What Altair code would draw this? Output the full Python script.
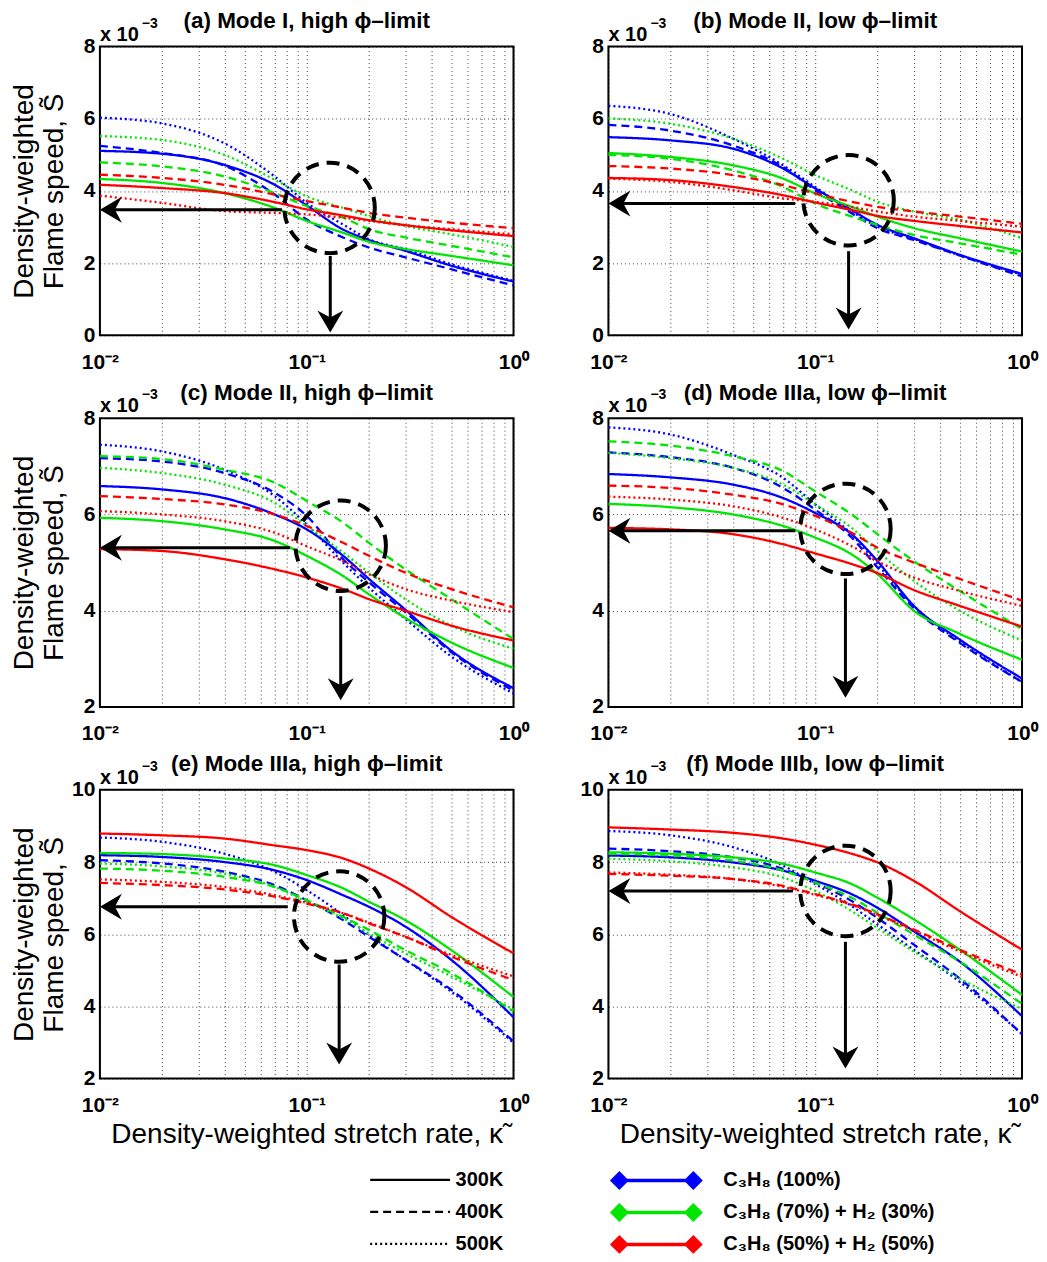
import altair as alt
import pandas as pd

# ---------------- data (values in units of 1e-3) ----------------
KAPPA = [0.01, 0.02, 0.04, 0.07, 0.1, 0.15, 0.2, 0.3, 0.5, 1.0]
FUELS = ["C₃H₈ (100%)", "C₃H₈ (70%) + H₂ (30%)", "C₃H₈ (50%) + H₂ (50%)"]
TEMPS = ["300K", "400K", "500K"]
COLORS = ["#0000ff", "#00e600", "#ff0000"]

# (a) Mode I, high phi-limit
A_B300 = [5.11, 5.03, 4.72, 4.17, 3.60, 2.93, 2.64, 2.34, 1.93, 1.49]
A_B400 = [5.25, 5.05, 4.70, 3.90, 3.21, 2.71, 2.43, 2.16, 1.83, 1.38]
A_B500 = [6.03, 5.87, 5.32, 4.40, 3.67, 3.07, 2.66, 2.39, 1.97, 1.51]
A_G300 = [4.33, 4.22, 3.94, 3.53, 3.17, 2.84, 2.59, 2.39, 2.20, 1.94]
A_G400 = [4.79, 4.68, 4.40, 3.94, 3.58, 3.26, 2.94, 2.71, 2.48, 2.16]
A_G500 = [5.52, 5.41, 5.00, 4.31, 3.85, 3.53, 3.30, 3.03, 2.80, 2.45]
A_R300 = [4.17, 4.08, 3.94, 3.69, 3.49, 3.32, 3.19, 3.05, 2.91, 2.75]
A_R400 = [4.45, 4.36, 4.17, 3.90, 3.72, 3.53, 3.39, 3.26, 3.12, 2.97]
A_R500 = [3.87, 3.67, 3.44, 3.39, 3.35, 3.26, 3.17, 3.05, 2.94, 2.80]

# (b) Mode II, low phi-limit
B_B300 = [5.49, 5.40, 5.17, 4.62, 4.07, 3.47, 3.06, 2.69, 2.23, 1.70]
B_B400 = [5.83, 5.67, 5.26, 4.66, 4.02, 3.38, 2.97, 2.64, 2.21, 1.63]
B_B500 = [6.36, 6.13, 5.45, 4.71, 4.11, 3.43, 3.01, 2.67, 2.21, 1.68]
B_G300 = [5.05, 4.94, 4.71, 4.34, 3.93, 3.56, 3.29, 2.97, 2.69, 2.32]
B_G400 = [5.00, 4.89, 4.57, 4.11, 3.65, 3.29, 3.06, 2.78, 2.55, 2.23]
B_G500 = [6.01, 5.86, 5.45, 4.89, 4.44, 4.02, 3.70, 3.43, 3.20, 2.69]
B_R300 = [4.36, 4.30, 4.11, 3.88, 3.68, 3.47, 3.31, 3.17, 3.03, 2.85]
B_R400 = [4.69, 4.62, 4.44, 4.16, 3.93, 3.70, 3.56, 3.43, 3.29, 3.09]
B_R500 = [4.34, 4.25, 4.02, 3.79, 3.70, 3.56, 3.43, 3.29, 3.17, 3.01]

# (c) Mode II, high phi-limit
C_B300 = [6.59, 6.52, 6.34, 6.00, 5.69, 5.14, 4.66, 4.02, 3.17, 2.39]
C_B400 = [7.17, 7.10, 6.86, 6.45, 5.97, 5.07, 4.59, 3.97, 3.14, 2.34]
C_B500 = [7.45, 7.31, 6.93, 6.38, 5.79, 5.00, 4.48, 3.83, 3.05, 2.28]
C_G300 = [5.93, 5.86, 5.69, 5.45, 5.14, 4.72, 4.34, 3.85, 3.34, 2.81]
C_G400 = [7.21, 7.15, 6.93, 6.66, 6.28, 5.83, 5.41, 4.86, 4.24, 3.41]
C_G500 = [6.97, 6.86, 6.62, 6.24, 5.76, 5.21, 4.79, 4.24, 3.69, 3.21]
C_R300 = [5.28, 5.24, 5.07, 4.86, 4.69, 4.45, 4.24, 4.00, 3.69, 3.38]
C_R400 = [6.38, 6.32, 6.21, 6.00, 5.76, 5.41, 5.14, 4.79, 4.45, 4.07]
C_R500 = [6.07, 6.00, 5.86, 5.62, 5.34, 5.03, 4.76, 4.45, 4.21, 3.97]

# (d) Mode IIIa, low phi-limit
D_B300 = [6.84, 6.77, 6.62, 6.34, 6.03, 5.59, 5.03, 4.10, 3.40, 2.59]
D_B400 = [7.29, 7.19, 6.97, 6.55, 6.10, 5.52, 4.90, 4.05, 3.33, 2.52]
D_B500 = [7.81, 7.66, 7.24, 6.76, 6.21, 5.59, 4.97, 4.10, 3.36, 2.52]
D_G300 = [6.22, 6.15, 6.00, 5.76, 5.52, 5.17, 4.76, 4.00, 3.52, 2.98]
D_G400 = [7.52, 7.43, 7.21, 6.90, 6.48, 6.00, 5.59, 5.03, 4.41, 3.62]
D_G500 = [7.28, 7.17, 6.97, 6.62, 6.21, 5.72, 5.24, 4.62, 4.00, 3.38]
D_R300 = [5.72, 5.69, 5.59, 5.38, 5.19, 4.97, 4.78, 4.43, 4.10, 3.67]
D_R400 = [6.60, 6.55, 6.41, 6.21, 5.97, 5.62, 5.31, 5.00, 4.66, 4.21]
D_R500 = [6.37, 6.31, 6.17, 5.93, 5.69, 5.34, 5.03, 4.69, 4.41, 4.10]

# (e) Mode IIIa, high phi-limit
E_B300 = [8.19, 8.14, 8.00, 7.77, 7.50, 7.08, 6.76, 6.21, 5.29, 3.70]
E_B400 = [8.05, 7.96, 7.73, 7.36, 6.94, 6.39, 5.93, 5.29, 4.46, 3.03]
E_B500 = [8.68, 8.56, 8.23, 7.73, 7.22, 6.53, 5.98, 5.29, 4.41, 2.99]
E_G300 = [8.25, 8.22, 8.10, 7.91, 7.64, 7.27, 6.90, 6.39, 5.56, 4.26]
E_G400 = [7.82, 7.76, 7.59, 7.31, 6.94, 6.48, 6.12, 5.56, 4.92, 3.86]
E_G500 = [7.96, 7.88, 7.68, 7.31, 6.90, 6.44, 6.02, 5.47, 4.83, 3.91]
E_R300 = [8.79, 8.74, 8.65, 8.46, 8.33, 8.10, 7.82, 7.31, 6.48, 5.47]
E_R400 = [7.42, 7.36, 7.24, 7.04, 6.85, 6.58, 6.30, 5.93, 5.38, 4.73]
E_R500 = [7.52, 7.45, 7.31, 7.08, 6.87, 6.58, 6.32, 5.93, 5.43, 4.83]

# (f) Mode IIIb, low phi-limit
F_B300 = [8.18, 8.13, 7.99, 7.76, 7.48, 7.11, 6.73, 6.08, 5.24, 3.73]
F_B400 = [8.37, 8.30, 8.13, 7.81, 7.43, 6.92, 6.45, 5.71, 4.77, 3.23]
F_B500 = [8.86, 8.74, 8.41, 7.90, 7.39, 6.78, 6.27, 5.57, 4.68, 3.23]
F_G300 = [8.27, 8.23, 8.13, 7.95, 7.71, 7.39, 7.01, 6.41, 5.57, 4.32]
F_G400 = [8.23, 8.18, 8.04, 7.76, 7.43, 7.01, 6.59, 5.99, 5.24, 4.07]
F_G500 = [8.09, 8.02, 7.85, 7.57, 7.20, 6.64, 6.17, 5.52, 4.77, 3.93]
F_R300 = [8.96, 8.90, 8.81, 8.65, 8.48, 8.23, 7.99, 7.48, 6.64, 5.57]
F_R400 = [7.67, 7.62, 7.53, 7.34, 7.11, 6.83, 6.55, 6.13, 5.57, 4.89]
F_R500 = [7.71, 7.65, 7.53, 7.31, 7.09, 6.81, 6.53, 6.10, 5.52, 4.82]

PANEL_SERIES = {
    "a": [A_B300, A_B400, A_B500, A_G300, A_G400, A_G500, A_R300, A_R400, A_R500],
    "b": [B_B300, B_B400, B_B500, B_G300, B_G400, B_G500, B_R300, B_R400, B_R500],
    "c": [C_B300, C_B400, C_B500, C_G300, C_G400, C_G500, C_R300, C_R400, C_R500],
    "d": [D_B300, D_B400, D_B500, D_G300, D_G400, D_G500, D_R300, D_R400, D_R500],
    "e": [E_B300, E_B400, E_B500, E_G300, E_G400, E_G500, E_R300, E_R400, E_R500],
    "f": [F_B300, F_B400, F_B500, F_G300, F_G400, F_G500, F_R300, F_R400, F_R500],
}

PANEL_IDS = ["a", "b", "c", "d", "e", "f"]
TITLES = [
    "(a) Mode I, high ϕ–limit",
    "(b) Mode II, low ϕ–limit",
    "(c) Mode II, high ϕ–limit",
    "(d) Mode IIIa, low ϕ–limit",
    "(e) Mode IIIa, high ϕ–limit",
    "(f) Mode IIIb, low ϕ–limit",
]
Y_DOMAINS = [[0, 8], [0, 8], [2, 8], [2, 8], [2, 10], [2, 10]]
Y_TICKS = [[0, 2, 4, 6, 8], [0, 2, 4, 6, 8], [2, 4, 6, 8], [2, 4, 6, 8],
           [2, 4, 6, 8, 10], [2, 4, 6, 8, 10]]
X_DOMAIN = [0.01, 1.0]
X_GRID = [0.01, 0.02, 0.03, 0.04, 0.05, 0.06, 0.07, 0.08, 0.09,
          0.1, 0.2, 0.3, 0.4, 0.5, 0.6, 0.7, 0.8, 0.9, 1.0]
EXPONENT_BASE = ["x 10"]
EXPONENT_POWER = ["−3"]

# annotation: dashed circle + arrows (data coordinates)
CIRCLE_K = [0.129, 0.145, 0.146, 0.140, 0.1435, 0.140]
CIRCLE_S = [3.53, 3.74, 5.35, 5.70, 6.49, 7.20]
HARROW_K = [0.076, 0.080, 0.083, 0.080, 0.081, 0.078]
HARROW_END = [0.0112, 0.0112, 0.0112, 0.0112, 0.0112, 0.0112]
HARROW_TIP = [0.01, 0.01, 0.01, 0.01, 0.01, 0.01]
HARROW_S = [3.48, 3.65, 5.31, 5.66, 6.76, 7.20]
VARROW_K = [0.130, 0.145, 0.146, 0.140, 0.1435, 0.140]
VARROW_TOP = [2.20, 2.33, 4.30, 4.67, 5.16, 5.79]
VARROW_END = [0.35, 0.45, 2.35, 2.40, 2.65, 2.55]
VARROW_TIP = [0.08, 0.16, 2.14, 2.19, 2.39, 2.28]

LEFT_HEAD = "M0,0L1.1,-0.65L0.75,0L1.1,0.65Z"
DOWN_HEAD = "M0,0L-0.65,-1.1L0,-0.75L0.65,-1.1Z"
DASH_SYMBOL = "M-4,0L4,0"
DIAMOND_SYMBOL = ("M-3.7,0L3.7,0"
                  "M-4.4,0L-3.7,-0.7L-3,0L-3.7,0.7Z"
                  "M-4.1,0L-3.7,-0.4L-3.3,0L-3.7,0.4Z"
                  "M-3.85,0L-3.7,-0.15L-3.55,0L-3.7,0.15Z"
                  "M3,0L3.7,-0.7L4.4,0L3.7,0.7Z"
                  "M3.3,0L3.7,-0.4L4.1,0L3.7,0.4Z"
                  "M3.55,0L3.7,-0.15L3.85,0L3.7,0.15Z")

FONT = "Liberation Sans"
PANEL_W = 414
PANEL_H = 289

rows = []
for pid, series in PANEL_SERIES.items():
    for i, vals in enumerate(series):
        for k, v in zip(KAPPA, vals):
            rows.append({"panel": pid, "fuel": FUELS[i // 3], "temp": TEMPS[i % 3], "k": k, "s": v})
df = pd.DataFrame(rows)

LABEL_EXPR = ("datum.value == 0.01 ? '10⁻²' : (datum.value == 0.1 ? '10⁻¹' : "
              "(datum.value == 1 ? '10⁰' : ''))")

color_legend = alt.Legend(
    title=None, orient="none", legendX=545, legendY=1123, direction="vertical",
    symbolType=DIAMOND_SYMBOL, symbolSize=400, symbolStrokeWidth=3.5,
    labelOffset=55, rowPadding=4, padding=0,
    labelFont=FONT, labelFontSize=20, labelFontWeight="bold", labelColor="black",
    labelLimit=400,
)
dash_legend = alt.Legend(
    title=None, orient="none", legendX=299, legendY=1123, direction="vertical",
    symbolType=DASH_SYMBOL, symbolSize=400, symbolStrokeWidth=3.5,
    symbolStrokeColor="black", labelOffset=34, rowPadding=10, padding=0,
    labelFont=FONT, labelFontSize=20, labelFontWeight="bold", labelColor="black",
)


def panel(i):
    pid = PANEL_IDS[i]
    left = i % 2 == 0
    bottom = i >= 4
    xscale = alt.Scale(type="log", domain=X_DOMAIN)
    yscale = alt.Scale(domain=Y_DOMAINS[i], nice=False, zero=False)
    xkw = dict(values=X_GRID, labelExpr=LABEL_EXPR, labelOverlap=False, labelFlush=False,
               labelPadding=16, titlePadding=5)
    if bottom:
        xkw["title"] = "Density-weighted stretch rate, κ̃"
    else:
        xkw["title"] = None
    ykw = dict(values=Y_TICKS[i], labelPadding=5, minExtent=30, maxExtent=30,
               titlePadding=1, titleLineHeight=30, labelFlush=False)
    if left:
        ykw["title"] = ["Density-weighted", "Flame speed, S̃"]
    else:
        ykw["title"] = None
    xaxis = alt.Axis(**xkw)
    yaxis = alt.Axis(**ykw)

    def X(f):
        return alt.X(f, type="quantitative", scale=xscale, axis=xaxis)

    def Y(f):
        return alt.Y(f, type="quantitative", scale=yscale, axis=yaxis)

    lines = alt.Chart(df[df["panel"] == pid]).mark_line(interpolate="monotone").encode(
        x=X("k"),
        y=Y("s"),
        color=alt.Color("fuel:N", scale=alt.Scale(domain=FUELS, range=COLORS), legend=color_legend),
        strokeDash=alt.StrokeDash("temp:N", scale=alt.Scale(domain=TEMPS, range=[[1, 0], [8, 5], [2, 3]]),
                                  legend=dash_legend),
        strokeWidth=alt.StrokeWidth("temp:N", scale=alt.Scale(domain=TEMPS, range=[2.3, 2.3, 2.0]),
                                    legend=None),
    )

    ann = pd.DataFrame({
        "ck": [CIRCLE_K[i]], "cs": [CIRCLE_S[i]],
        "hk": [HARROW_K[i]], "hend": [HARROW_END[i]], "htip": [HARROW_TIP[i]], "hs": [HARROW_S[i]],
        "vk": [VARROW_K[i]], "vtop": [VARROW_TOP[i]], "vend": [VARROW_END[i]], "vtip": [VARROW_TIP[i]],
    })
    base = alt.Chart(ann)
    circle = base.mark_point(shape="circle", size=8200, filled=False, stroke="black",
                             strokeWidth=4, strokeDash=[13, 8], opacity=1).encode(x=X("ck"), y=Y("cs"))
    hshaft = base.mark_rule(color="black", strokeWidth=3).encode(x=X("hk"), x2="hend", y=Y("hs"))
    vshaft = base.mark_rule(color="black", strokeWidth=3).encode(x=X("vk"), y=Y("vtop"), y2="vend")
    hhead = base.mark_point(shape=LEFT_HEAD, size=1600, filled=True, color="black", opacity=1,
                            strokeWidth=0).encode(x=X("htip"), y=Y("hs"))
    vhead = base.mark_point(shape=DOWN_HEAD, size=1600, filled=True, color="black", opacity=1,
                            strokeWidth=0).encode(x=X("vk"), y=Y("vtip"))
    expo = alt.Chart(pd.DataFrame({"t": EXPONENT_BASE})).mark_text(
        align="left", baseline="alphabetic", font=FONT, fontSize=20, fontWeight="bold", color="black"
    ).encode(x=alt.value(0), y=alt.value(-6), text="t:N")
    power = alt.Chart(pd.DataFrame({"t": EXPONENT_POWER})).mark_text(
        align="left", baseline="alphabetic", font=FONT, fontSize=14, fontWeight="bold", color="black"
    ).encode(x=alt.value(42), y=alt.value(-19), text="t:N")

    return alt.layer(lines, circle, hshaft, vshaft, hhead, vhead, expo, power).properties(
        width=PANEL_W, height=PANEL_H,
        title=alt.TitleParams(TITLES[i], font=FONT, fontSize=22.5, fontWeight="bold", color="black",
                              anchor="middle", frame="group", offset=-16),
    )


chart = alt.concat(*[panel(i) for i in range(6)], columns=2,
                   spacing={"row": 7, "column": 47}).properties(
    background="white",
    padding={"left": 2, "top": 0, "right": 0, "bottom": 0},
).configure_view(
    stroke="black", strokeWidth=2
).configure_axis(
    domain=False, ticks=False, grid=True, gridColor="black", gridDash=[1, 3], gridWidth=1,
    gridOpacity=0.75, labelFont=FONT, labelFontSize=21, labelFontWeight="bold", labelColor="black",
    titleFont=FONT, titleFontSize=28, titleFontWeight="normal", titleColor="black",
)

chart.save("out.html", embed_options={"renderer": "svg", "actions": False})
